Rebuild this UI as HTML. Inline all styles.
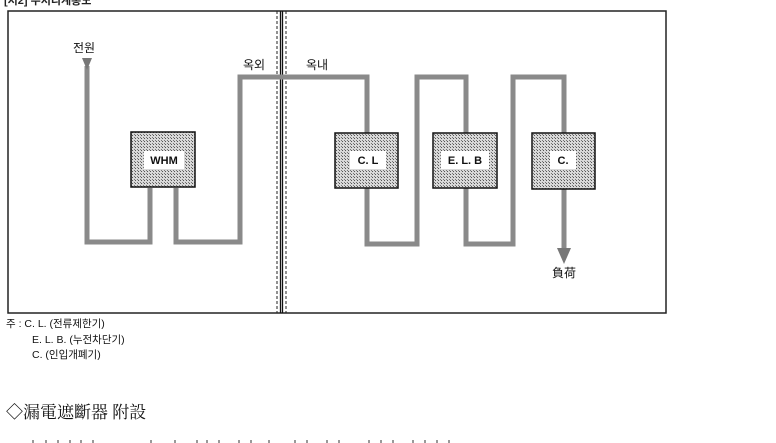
<!DOCTYPE html><html><head><meta charset="utf-8"><style>body{margin:0;background:#fff;width:776px;height:443px;overflow:hidden;font-family:"Liberation Sans","Noto Sans CJK KR",sans-serif}</style></head><body>
<svg width="776" height="443" xmlns="http://www.w3.org/2000/svg" style="position:absolute;left:0;top:0">
<defs><pattern id="d" width="3" height="3" patternUnits="userSpaceOnUse"><rect width="3" height="3" fill="#d8d8d8"/><rect width="1" height="1" fill="#555"/><rect x="2" y="2" width="1" height="1" fill="#777"/></pattern></defs>
<text x="4" y="4" font-size="11" font-weight="bold" fill="#222">[처2] 수처리계통도</text>
<rect x="8" y="11" width="658" height="302" fill="none" stroke="#222" stroke-width="1.5"/>
<line x1="277" y1="11" x2="277" y2="313" stroke="#222" stroke-dasharray="3,2"/>
<line x1="280.5" y1="11" x2="280.5" y2="313" stroke="#111" stroke-width="1.3"/>
<line x1="282.5" y1="11" x2="282.5" y2="313" stroke="#111" stroke-width="1.3"/>
<line x1="286" y1="11" x2="286" y2="313" stroke="#222" stroke-dasharray="3,2"/>
<g fill="none" stroke="#8a8a8a" stroke-width="5">
<polyline points="87,66 87,242 150,242 150,188"/>
<polyline points="176,188 176,242 240,242 240,77 367,77 367,133"/>
<polyline points="367,188 367,244 417,244 417,77 466,77 466,133"/>
<polyline points="466,188 466,244 513,244 513,77 564,77 564,250"/>
</g>
<polygon points="82,58 92,58 87,70" fill="#777"/>
<polygon points="557,248 571,248 564,264" fill="#777"/>
<g stroke="#111" stroke-width="1.5" fill="url(#d)">
<rect x="131" y="132" width="64" height="55"/>
<rect x="335" y="133" width="63" height="55"/>
<rect x="433" y="133" width="64" height="55"/>
<rect x="532" y="133" width="63" height="56"/>
</g>
<g fill="#fff"><rect x="144" y="151" width="40" height="18"/><rect x="350" y="151" width="36" height="18"/><rect x="441" y="151" width="48" height="18"/><rect x="550" y="151" width="26" height="18"/></g>
<g font-size="11" font-weight="bold" fill="#111" text-anchor="middle">
<text x="164" y="164">WHM</text><text x="368" y="164">C. L</text><text x="465" y="164">E. L. B</text><text x="563" y="164">C.</text></g>
<g font-size="12" fill="#111">
<text x="73" y="52">전원</text><text x="243" y="69">옥외</text><text x="306" y="69">옥내</text><text x="552" y="277">負荷</text></g>
<g font-size="10.5" fill="#111">
<text x="6" y="327">주 : C. L. (전류제한기)</text>
<text x="32" y="343">E. L. B. (누전차단기)</text>
<text x="32" y="358">C. (인입개폐기)</text></g>
<text x="6" y="418" font-size="17" fill="#111" font-family="Liberation Serif,'Noto Serif CJK SC',serif">◇漏電遮斷器 附設</text>
<g fill="#999">
<rect x="32" y="440" width="2" height="3"/><rect x="45" y="440" width="2" height="3"/><rect x="57" y="440" width="2" height="3"/><rect x="69" y="440" width="2" height="3"/><rect x="80" y="440" width="2" height="3"/><rect x="92" y="440" width="2" height="3"/><rect x="150" y="440" width="2" height="3"/><rect x="174" y="440" width="2" height="3"/><rect x="196" y="440" width="2" height="3"/><rect x="206" y="440" width="2" height="3"/><rect x="218" y="440" width="2" height="3"/><rect x="238" y="440" width="2" height="3"/><rect x="250" y="440" width="2" height="3"/><rect x="268" y="440" width="2" height="3"/><rect x="294" y="440" width="2" height="3"/><rect x="306" y="440" width="2" height="3"/><rect x="326" y="440" width="2" height="3"/><rect x="338" y="440" width="2" height="3"/><rect x="368" y="440" width="2" height="3"/><rect x="380" y="440" width="2" height="3"/><rect x="392" y="440" width="2" height="3"/><rect x="412" y="440" width="2" height="3"/><rect x="424" y="440" width="2" height="3"/><rect x="436" y="440" width="2" height="3"/><rect x="448" y="440" width="2" height="3"/>
</g>
</svg></body></html>
